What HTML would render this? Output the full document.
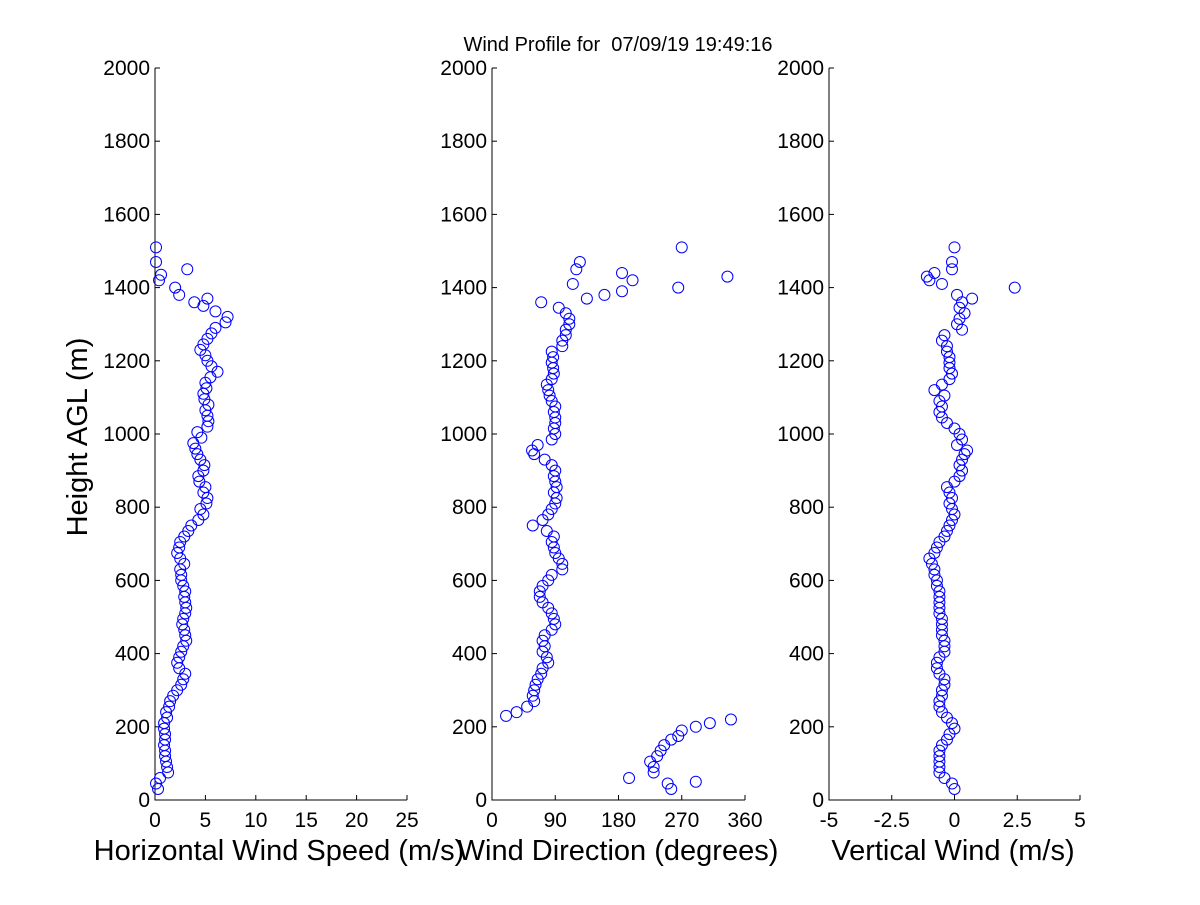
<!DOCTYPE html>
<html><head><meta charset="utf-8"><style>
html,body{margin:0;padding:0;background:#fff;}
svg text{font-family:"Liberation Sans",Arial,sans-serif;fill:#000;}
</style></head><body>
<svg id="chart" width="1200" height="900" viewBox="0 0 1200 900">
<rect width="1200" height="900" fill="#fff"/>
<text x="618" y="51" font-size="20" text-anchor="middle" style="white-space:pre">Wind Profile for  07/09/19 19:49:16</text>
</svg>
<script>
const yTicks=[0,200,400,600,800,1000,1200,1400,1600,1800,2000];
const speedTicks=[0,5,10,15,20,25];
const dirTicks=[0,90,180,270,360];
const vertTicks=[-5,-2.5,0,2.5,5];
const vertTickLabels=["-5","-2.5","0","2.5","5"];

const speedHeights=[30,45,60,75,90,105,120,135,150,165,180,195,210,225,240,255,270,285,300,315,330,345,360,375,390,405,420,435,450,465,480,495,510,525,540,555,570,585,600,615,630,645,660,675,690,705,720,735,750,765,780,795,810,825,840,855,870,885,900,915,930,945,960,975,990,1005,1020,1035,1050,1065,1080,1095,1110,1125,1140,1155,1170,1185,1200,1215,1230,1245,1260,1275,1290,1305,1320,1335,1350,1360,1370,1380,1400,1420,1435,1450,1470,1510];
const speedValues=[0.3,0.1,0.5,1.3,1.2,1.1,1.0,1.0,0.9,1.0,1.0,0.9,0.9,1.2,1.1,1.4,1.5,1.8,2.2,2.6,2.8,3.0,2.4,2.2,2.4,2.6,2.8,3.1,3.0,2.9,2.7,2.8,3.0,3.1,3.0,2.9,3.0,2.8,2.6,2.6,2.5,2.9,2.5,2.2,2.4,2.5,2.9,3.3,3.6,4.3,4.8,4.5,5.1,5.2,4.8,5.0,4.4,4.3,4.8,4.9,4.5,4.2,4.0,3.8,4.6,4.2,5.2,5.3,5.2,5.0,5.3,4.9,4.8,5.1,5.0,5.5,6.2,5.6,5.2,5.0,4.5,4.8,5.2,5.6,6.0,7.0,7.2,6.0,4.8,3.9,5.2,2.4,2.0,0.4,0.6,3.2,0.1,0.1];

const dirHeights=[30,45,50,60,75,90,105,120,135,150,165,175,190,200,210,220,230,240,255,270,285,300,315,330,345,360,375,390,405,420,435,450,465,480,495,510,525,540,555,570,585,600,615,630,645,660,675,690,705,720,735,750,765,780,795,810,825,840,855,870,885,900,915,930,945,955,970,985,1000,1015,1030,1045,1060,1075,1090,1105,1120,1135,1150,1165,1180,1195,1210,1225,1240,1255,1270,1285,1300,1315,1330,1345,1360,1370,1380,1390,1400,1410,1420,1430,1440,1450,1470,1510];
const dirValues=[255,250,290,195,230,230,225,235,240,245,255,265,270,290,310,340,20,35,50,60,58,60,62,65,70,72,80,78,72,75,72,75,85,90,88,85,80,72,68,68,72,80,85,100,100,95,90,88,85,88,78,58,72,80,85,90,92,88,92,90,88,90,85,75,60,57,65,85,90,88,90,90,88,90,85,82,80,78,85,88,87,85,87,85,100,100,105,105,110,110,105,95,70,135,160,185,265,115,200,335,185,120,125,270];

const vertHeights=[30,45,60,75,90,105,120,135,150,165,180,195,210,225,240,255,270,285,300,315,330,345,360,375,390,405,420,435,450,465,480,495,510,525,540,555,570,585,600,615,630,645,660,675,690,705,720,735,750,765,780,795,810,825,840,855,870,885,900,915,930,945,955,970,985,1000,1015,1030,1045,1060,1075,1090,1105,1120,1135,1150,1165,1180,1195,1210,1225,1240,1255,1270,1285,1300,1315,1330,1345,1360,1370,1380,1400,1410,1420,1430,1440,1450,1470,1510];
const vertValues=[0,-0.1,-0.4,-0.6,-0.6,-0.6,-0.6,-0.6,-0.5,-0.3,-0.2,0,-0.1,-0.3,-0.5,-0.6,-0.6,-0.5,-0.5,-0.4,-0.4,-0.6,-0.7,-0.7,-0.6,-0.4,-0.4,-0.4,-0.5,-0.5,-0.5,-0.5,-0.6,-0.6,-0.6,-0.6,-0.6,-0.7,-0.7,-0.8,-0.8,-0.9,-1.0,-0.8,-0.7,-0.6,-0.4,-0.3,-0.2,-0.1,0,-0.1,-0.2,-0.1,-0.2,-0.3,0,0.2,0.3,0.2,0.3,0.4,0.5,0.1,0.3,0.2,0,-0.3,-0.5,-0.6,-0.5,-0.6,-0.4,-0.8,-0.5,-0.2,-0.1,-0.2,-0.2,-0.2,-0.3,-0.3,-0.5,-0.4,0.3,0.1,0.2,0.4,0.2,0.3,0.7,0.1,2.4,-0.5,-1.0,-1.1,-0.8,-0.1,-0.1,0];

const NS="http://www.w3.org/2000/svg";
const svg=document.getElementById('chart');
const Y0=800,Y1=68;
function yScale(h){return Y0+(Y1-Y0)*h/2000;}
function mk(tag,attrs){const e=document.createElementNS(NS,tag);for(const k in attrs)e.setAttribute(k,attrs[k]);return e;}

function panel(name,x0,x1,vmin,vmax,xt,xtl,heights,values,xlabel,xlabelX,showYLabel){
  const g=mk('g',{});
  
  
  svg.appendChild(g);
  const xs=v=>x0+(x1-x0)*(v-vmin)/(vmax-vmin);
  const ax=mk('path',{d:`M${x0},${Y1}V${Y0}H${x1}`,stroke:'#000','stroke-width':1,fill:'none'});
  
  
  g.appendChild(ax);
  yTicks.forEach(t=>{
    const y=yScale(t);
    g.appendChild(mk('line',{x1:x0,x2:x0+5,y1:y,y2:y,stroke:'#000'}));
    const tx=mk('text',{x:x0-5,y:y+7,'font-size':21,'text-anchor':'end'});
    tx.textContent=t;
    
    
    g.appendChild(tx);
  });
  xt.forEach((t,i)=>{
    const x=xs(t);
    g.appendChild(mk('line',{x1:x,x2:x,y1:Y0,y2:Y0-5,stroke:'#000'}));
    const tx=mk('text',{x:x,y:Y0+27,'font-size':21,'text-anchor':'middle'});
    tx.textContent=xtl[i];
    
    
    g.appendChild(tx);
  });
  const xl=mk('text',{x:xlabelX,y:860,'font-size':29,'text-anchor':'middle'});
  xl.textContent=xlabel;
  
  
  g.appendChild(xl);
  if(showYLabel){
    const yl=mk('text',{x:0,y:0,'font-size':29,'text-anchor':'middle',transform:`translate(87,437) rotate(-90)`});
    yl.textContent='Height AGL (m)';
    
    
    g.appendChild(yl);
  }
  heights.forEach((h,i)=>{
    const c=mk('circle',{cx:xs(values[i]),cy:yScale(h),r:5.5,fill:'none',stroke:'#0000ff','stroke-width':1});
    
    
    g.appendChild(c);
  });
}
panel('speed',155,407,0,25,speedTicks,speedTicks.map(String),speedHeights,speedValues,'Horizontal Wind Speed (m/s)',279,true);
panel('direction',492,745,0,360,dirTicks,dirTicks.map(String),dirHeights,dirValues,'Wind Direction (degrees)',618,false);
panel('vertical',829,1080,-5,5,vertTicks,vertTickLabels,vertHeights,vertValues,'Vertical Wind (m/s)',953,false);
</script>
</body></html>
